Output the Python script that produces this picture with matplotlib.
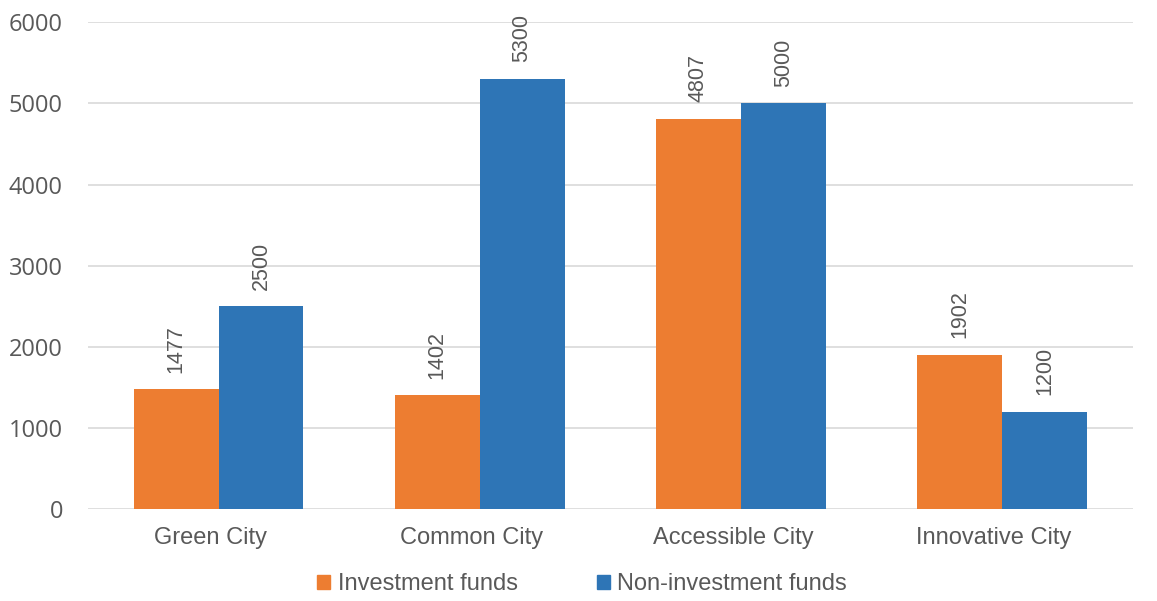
import matplotlib
matplotlib.use("Agg")
import matplotlib.pyplot as plt
import matplotlib.transforms as mtransforms
import numpy as np
from matplotlib.patches import Patch

categories = ["Green City", "Common City", "Accessible City", "Innovative City"]
investment = [1477, 1402, 4807, 1902]
non_investment = [2500, 5300, 5000, 1200]
yticks = [0, 1000, 2000, 3000, 4000, 5000, 6000]

orange = "#ED7D31"
blue = "#2E75B6"
text_col = "#595959"

plt.rcParams["font.family"] = ["Liberation Sans", "DejaVu Sans"]

fig = plt.figure(figsize=(11.57, 6.01), dpi=100)
ax = fig.add_axes([0.076, 0.153, 0.903, 0.81])

x = np.arange(len(categories))
w = 0.325
b1 = ax.bar(x - w / 2, investment, w, color=orange)
b2 = ax.bar(x + w / 2, non_investment, w, color=blue)

for bars in (b1, b2):
    for rect in bars:
        h = rect.get_height()
        ax.annotate(f"{h:.0f}", (rect.get_x() + rect.get_width() / 2, h),
                    xytext=(0, 12), textcoords="offset points",
                    rotation=90, ha="center", va="bottom",
                    fontsize=15.5, color=text_col)

ax.set_xlim(-0.5, len(categories) - 0.5)
ax.set_ylim(0, 6000)
ax.set_yticks(yticks)
ax.set_yticklabels([str(t) for t in yticks], fontsize=17, color=text_col,
                   family=["Open Sans", "DejaVu Sans"])
ax.set_xticks(x)
ax.set_xticklabels(categories, fontsize=17, color=text_col)
ax.tick_params(axis="both", length=0)
ax.tick_params(axis="y", pad=18)
ax.tick_params(axis="x", pad=13)

# nudge category labels slightly left
shift = mtransforms.ScaledTranslation(-8 / 100, 0, fig.dpi_scale_trans)
for lbl in ax.get_xticklabels():
    lbl.set_transform(lbl.get_transform() + shift)

ax.grid(axis="y", color="#D9D9D9", linewidth=1.2)
ax.set_axisbelow(True)
for s in ax.spines.values():
    s.set_visible(False)

handles = [Patch(color=orange), Patch(color=blue)]
fig.legend(handles, ["Investment funds", "Non-investment funds"],
           loc="center", bbox_to_anchor=(0.503, 0.028), ncol=2, frameon=False,
           fontsize=17, handlelength=0.55, handleheight=0.55, handletextpad=0.3,
           columnspacing=3.35, labelcolor=text_col)

fig.savefig("out.png", dpi=100, facecolor="white")
